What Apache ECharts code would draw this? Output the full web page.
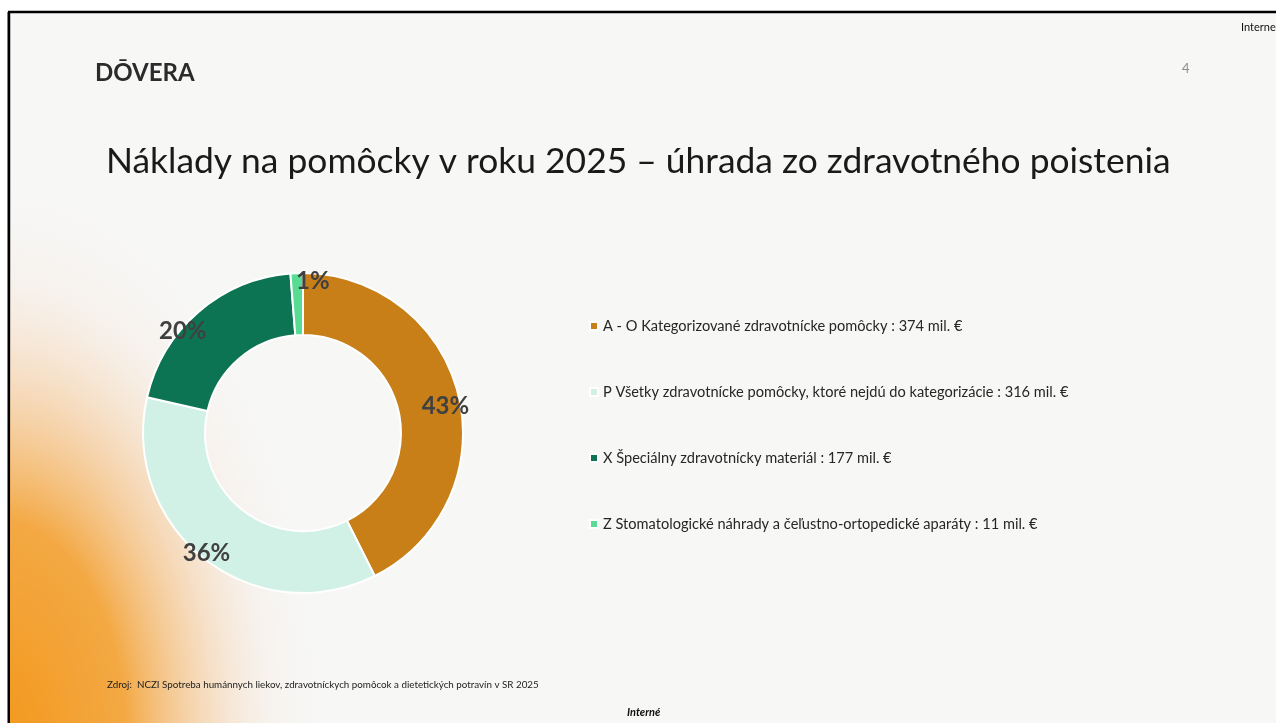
<!DOCTYPE html>
<html>
<head>
<meta charset="utf-8">
<script src="https://cdn.jsdelivr.net/npm/echarts@6/dist/echarts.min.js"></script>
<style>
  html, body { margin: 0; padding: 0; background: #fff; }
  #chart { width: 1276px; height: 723px; }
</style>
</head>
<body>
<div id="chart"></div>
<script>
// udaje zo slajdu (mil. €)
var categories = [
  'A - O Kategorizované zdravotnícke pomôcky',
  'P Všetky zdravotnícke pomôcky, ktoré nejdú do kategorizácie',
  'X Špeciálny zdravotnícky materiál',
  'Z Stomatologické náhrady a čeľustno-ortopedické aparáty'
];
var amounts = [374, 316, 177, 11];
var colors = ['#C87F17', '#D2F1E6', '#0D7453', '#58DC93'];
// posun popiskov ako v PowerPointe
var labelShift = [[14, 4], [-15, 16], [-34, -2], [15, -20]];

var FONT = 'Lato, "Open Sans", sans-serif';

var pieData = [];
for (var i = 0; i < categories.length; i++) {
  pieData.push({
    name: categories[i],
    value: amounts[i],
    itemStyle: { color: colors[i] },
    label: { offset: labelShift[i] }
  });
}

var myChart = echarts.init(document.getElementById('chart'));

var option = {
  backgroundColor: '#ffffff',
  animation: false,
  graphic: [
    // plocha slajdu s okrajom
    { type: 'rect', z: -10, shape: { x: 9, y: 12, width: 1280, height: 720 },
      style: { fill: '#F7F7F6', stroke: '#000', lineWidth: 2.5 } },
    // oranzovy prechod vlavo dole
    { type: 'rect', z: -9, x: 0, y: 735, scaleX: 1, scaleY: 1.7,
      shape: { x: -330, y: -330, width: 660, height: 660 },
      style: {
        fill: {
          type: 'radial', x: 0.5, y: 0.5, r: 0.5,
          colorStops: [
            { offset: 0, color: 'rgba(243,152,28,1)' },
            { offset: 0.38, color: 'rgba(243,160,48,0.9)' },
            { offset: 0.6, color: 'rgba(245,190,128,0.55)' },
            { offset: 0.8, color: 'rgba(246,220,198,0.22)' },
            { offset: 1, color: 'rgba(247,247,246,0)' }
          ]
        }
      }
    },
    { type: 'rect', z: -8, shape: { x: 0, y: 0, width: 8, height: 723 }, style: { fill: '#fff' } },
    { type: 'rect', z: -8, shape: { x: 7.5, y: 12, width: 2.5, height: 711 }, style: { fill: '#000' } },
    { type: 'text', left: 95, top: 61,
      style: { text: 'DŌVERA', font: 'bold 24px ' + FONT, fill: '#2B2B2B' } },
    { type: 'text', left: 1182, top: 62,
      style: { text: '4', font: '13px ' + FONT, fill: '#8C8C8C' } },
    { type: 'text', left: 1241, top: 22,
      style: { text: 'Interne', font: '11px ' + FONT, fill: '#111' } },
    { type: 'text', left: 106, top: 144,
      style: { text: 'Náklady na pomôcky v roku 2025 – úhrada zo zdravotného poistenia',
               font: '35.4px ' + FONT, fill: '#1A1A1A' } },
    { type: 'text', left: 107, top: 680,
      style: { text: 'Zdroj:  NCZI Spotreba humánnych liekov, zdravotníckych pomôcok a dietetických potravín v SR 2025',
               font: '9.8px ' + FONT, fill: '#222' } },
    { type: 'text', left: 627, top: 707,
      style: { text: 'Interné', font: 'italic bold 11px ' + FONT, fill: '#111' } }
  ],
  legend: {
    orient: 'vertical',
    left: 584,
    top: 311,
    icon: 'rect',
    itemWidth: 8,
    itemHeight: 8,
    itemGap: 46,
    selectedMode: false,
    data: categories,
    formatter: function (name) {
      var idx = categories.indexOf(name);
      return name + ' : ' + amounts[idx] + ' mil. €';
    },
    textStyle: { fontFamily: FONT, fontSize: 14.6, lineHeight: 20, color: '#262626' }
  },
  series: [{
    type: 'pie',
    center: [303, 433],
    radius: [98, 160],
    startAngle: 90,
    clockwise: true,
    avoidLabelOverlap: false,
    itemStyle: { borderColor: '#ffffff', borderWidth: 2 },
    label: {
      show: true,
      position: 'inside',
      formatter: function (p) { return Math.round(p.percent) + '%'; },
      fontFamily: FONT,
      fontWeight: 'bold',
      fontSize: 24,
      color: '#404040'
    },
    labelLine: { show: false },
    emphasis: { disabled: true },
    data: pieData
  }]
};

myChart.setOption(option);
</script>
</body>
</html>
